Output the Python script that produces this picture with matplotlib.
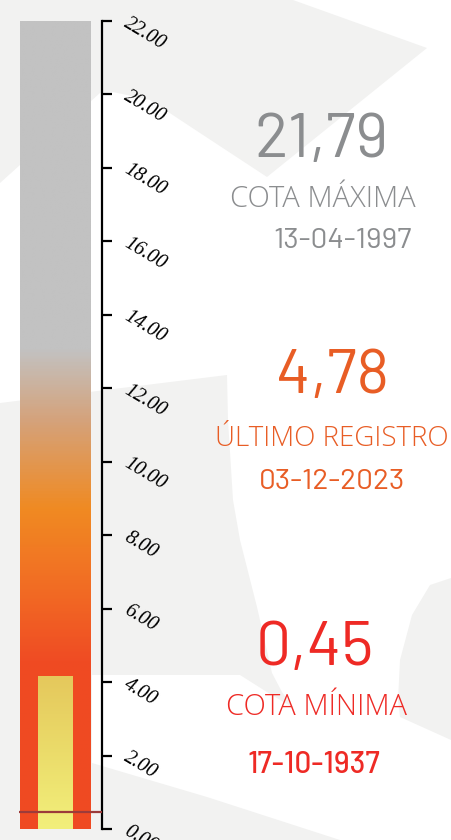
import numpy as np
import matplotlib
matplotlib.use("Agg")
import matplotlib.pyplot as plt
from matplotlib import font_manager
from matplotlib.colors import LinearSegmentedColormap
from matplotlib.patches import Polygon

# ---------------- data ----------------
tick_values = [0, 2, 4, 6, 8, 10, 12, 14, 16, 18, 20, 22]
tick_labels = ["0.00", "2.00", "4.00", "6.00", "8.00", "10.00", "12.00",
               "14.00", "16.00", "18.00", "20.00", "22.00"]
scale_max = 22.0
cota_maxima = 21.79
cota_minima = 0.45
ultimo_registro = 4.78
bar_level = 4.14          # height of the inner (yellow) bar as drawn
fecha_maxima = "13-04-1997"
fecha_ultimo = "03-12-2023"
fecha_minima = "17-10-1937"
labels = ["COTA MÁXIMA", "ÚLTIMO REGISTRO", "COTA MÍNIMA"]

# gradient stops (value, colour) for the outer bar
grad_vals = [0.0, 4.5, 6.6, 8.7, 11.1, 13.1, 22.0]
grad_cols = ["#ef4a22", "#ef4b23", "#f26d24", "#f08a22", "#d5a27a", "#c2c2c2", "#c2c2c2"]
inner_cols = ["#f2ef7b", "#ebdc6a", "#e5c85c"]

# ---------------- fonts ----------------
avail = {f.name for f in font_manager.fontManager.ttflist}
def pick(*names):
    for n in names:
        if n in avail:
            return n
    return "DejaVu Sans"
num_font = pick("Barlow", "Roboto")
date_font = pick("Barlow", "Roboto", "DejaVu Sans")
lab_font = pick("Open Sans", "Lato", "Noto Sans")
tick_font = pick("Liberation Serif", "DejaVu Serif")

W, H = 451, 840
fig = plt.figure(figsize=(W / 100, H / 100), dpi=100)
fig.patch.set_facecolor("white")

def fx(x):
    return x / W
def fy(y):
    return 1 - y / H

# ---------------- background decoration ----------------
bg = "#f2f2f1"
shapes = [
    [(0, 0), (293, 0), (427, 48), (267, 177), (200, 133), (150, 100), (113, 92), (100, 93), (0, 183)],
    [(0, 403), (227, 375), (228, 420), (233, 500), (240, 540), (257, 607), (272, 673), (282, 692),
     (294, 708), (270, 694), (240, 675), (92, 675),
     (92, 763), (207, 797), (340, 840), (0, 840)],
    [(451, 578), (430, 585), (412, 615), (400, 660), (398, 700), (400, 717), (451, 740)],
]
for pts in shapes:
    fig.patches.append(Polygon([(fx(x), fy(y)) for x, y in pts], closed=True,
                               transform=fig.transFigure, facecolor=bg, edgecolor="none",
                               zorder=-10))

# ---------------- thermometer axes ----------------
ax_left, ax_right = 20, 102
ax_top, ax_bot = 21, 829
ax = fig.add_axes([fx(ax_left), fy(ax_bot), (ax_right - ax_left) / W, (ax_bot - ax_top) / H])
ax.set_zorder(5)
ax.set_facecolor("none")
ax.set_xlim(0, 1)
ax.set_ylim(0, scale_max)

bar_r = (91 - ax_left) / (ax_right - ax_left)
in_l = (38 - ax_left) / (ax_right - ax_left)
in_r = (73 - ax_left) / (ax_right - ax_left)

cmap = LinearSegmentedColormap.from_list(
    "thermo", [(v / scale_max, c) for v, c in zip(grad_vals, grad_cols)])
yy = np.linspace(0, scale_max, 600).reshape(-1, 1)
ax.imshow(yy, cmap=cmap, vmin=0, vmax=scale_max, origin="lower", aspect="auto",
          extent=[0, bar_r, 0, scale_max], interpolation="bilinear", zorder=1)

icmap = LinearSegmentedColormap.from_list("inner", inner_cols)
yi = np.linspace(0, 1, 200).reshape(-1, 1)
ax.imshow(yi, cmap=icmap, origin="lower", aspect="auto",
          extent=[in_l, in_r, 0, bar_level], interpolation="bilinear", zorder=2)
ax.set_xlim(0, 1)
ax.set_ylim(0, scale_max)

# minimum line
ax.plot([-0.015, 1.0], [cota_minima, cota_minima], color="#9c3b3a", lw=1.6,
        solid_capstyle="butt", clip_on=False, zorder=3)

for s in ["left", "top", "bottom"]:
    ax.spines[s].set_visible(False)
ax.spines["right"].set_linewidth(1.6)
ax.spines["right"].set_color("black")
ax.set_xticks([])
ax.yaxis.tick_right()
ax.set_yticks(tick_values)
ax.set_yticklabels([])
ax.tick_params(axis="y", direction="out", length=7.5, width=1.6, color="black")

for v, lab in zip(tick_values, tick_labels):
    ax.annotate(lab, xy=(1, v), xycoords=("axes fraction", "data"),
                xytext=(17, -0.5), textcoords="offset points",
                rotation=-31, rotation_mode="anchor", ha="left", va="center",
                fontsize=14.5, fontstyle="italic",
                family=tick_font, color="black",
                annotation_clip=False)

# ---------------- texts ----------------
gray = "#8b8d8f"
orange = "#e85d25"
red = "#ee2a25"

def fmt(v):
    return f"{v:.2f}".replace(".", ",")

def t(x, y, s, size, color, family, weight="normal"):
    fig.text(fx(x), fy(y), s, ha="center", va="baseline", fontsize=size,
             color=color, family=family, fontweight=weight, zorder=6)

t(321, 157, fmt(cota_maxima), 45, gray, num_font)
t(323, 207, labels[0], 21, gray, lab_font, "light")
t(343, 248, fecha_maxima, 21.5, gray, date_font)

t(333, 393, fmt(ultimo_registro), 45, orange, num_font)
t(332, 446, labels[1], 20, orange, lab_font, "light")
t(332, 489, fecha_ultimo, 21.5, orange, date_font)

t(315, 665, fmt(cota_minima), 45, red, num_font)
t(316, 715, labels[2], 21, red, lab_font, "light")
t(314, 773, fecha_minima, 21.5, red, date_font, "medium")

fig.savefig("out.png", dpi=100, facecolor="white")
